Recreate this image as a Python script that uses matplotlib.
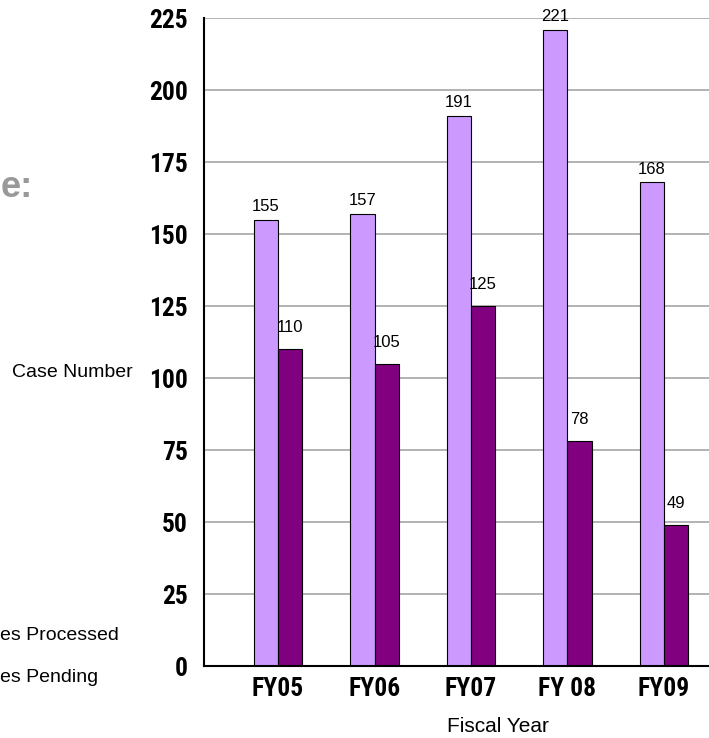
import matplotlib
matplotlib.use("Agg")
import matplotlib.pyplot as plt
from matplotlib import font_manager as fm
import numpy as np

# Annual case counts
years = ["FY05", "FY06", "FY07", "FY 08", "FY09"]
processed = [155, 157, 191, 221, 168]
pending = [110, 105, 125, 78, 49]
y_ticks = [0, 25, 50, 75, 100, 125, 150, 175, 200, 225]

LIGHT = "#CC99FF"
DARK = "#800080"
GRID = "#9E9E9E"

W, H = 709, 738
DPI = 100
fig = plt.figure(figsize=(W / DPI, H / DPI), dpi=DPI)

regular = ["Liberation Sans", "DejaVu Sans"]


def narrow_bold_font():
    """Pick a condensed bold face if one is installed."""
    prefs = ["Liberation Sans Narrow", "Arial Narrow", "Roboto Condensed",
             "Open Sans Condensed", "Noto Sans", "DejaVu Sans"]
    found = []
    for f in fm.fontManager.ttflist:
        condensed = ("Narrow" in f.name or "Condensed" in f.name
                     or "Cond" in f.fname or "Narrow" in f.fname
                     or f.stretch in ("condensed", "semi-condensed",
                                      "extra-condensed"))
        bold = (f.weight in ("bold", 700, 600, "semibold", "demibold")
                or "Bold" in f.fname)
        if condensed and bold and "Oblique" not in f.fname \
                and "Italic" not in f.fname:
            found.append(f)
    for p in prefs:
        for f in found:
            if f.name.startswith(p):
                return fm.FontProperties(fname=f.fname), True
    if found:
        return fm.FontProperties(fname=found[0].fname), True
    return fm.FontProperties(family="Liberation Sans", weight="bold"), False


tick_font, is_narrow = narrow_bold_font()
tick_font.set_size(18.4 if is_narrow else 16)

# Plot area: extends past the right edge of the canvas
ax_left, ax_right = 204, 738
ax_bottom, ax_top = 72, 720
ax = fig.add_axes([ax_left / W, ax_bottom / H,
                   (ax_right - ax_left) / W, (ax_top - ax_bottom) / H])

x = np.arange(len(years))
bw = 0.25
b1 = ax.bar(x - bw / 2, processed, bw, color=LIGHT, edgecolor="black",
            linewidth=0.8, zorder=2)
b2 = ax.bar(x + bw / 2, pending, bw, color=DARK, edgecolor="black",
            linewidth=0.8, zorder=2)

ax.set_xlim(-0.767, 4.767)
ax.set_ylim(0, 225)
ax.set_yticks(y_ticks)
ax.set_xticks(x)
ax.set_xticklabels(years)

ax.yaxis.grid(True, color=GRID, linewidth=1.1, zorder=0)
ax.set_axisbelow(True)

for side in ("top", "right"):
    ax.spines[side].set_visible(False)
for side in ("left", "bottom"):
    ax.spines[side].set_linewidth(1.5)
    ax.spines[side].set_color("black")

ax.tick_params(axis="y", length=0, pad=11.5)
ax.tick_params(axis="x", length=0, pad=8)
for lab in ax.get_yticklabels() + ax.get_xticklabels():
    lab.set_fontproperties(tick_font)

# Value labels above each bar
for rect, v in zip(b1, processed):
    ax.annotate(str(v), (rect.get_x() + rect.get_width() / 2, v),
                xytext=(0, 4), textcoords="offset points",
                ha="center", va="bottom", fontsize=12, family=regular)
for rect, v in zip(b2, pending):
    ax.annotate(str(v), (rect.get_x() + rect.get_width() / 2, v),
                xytext=(0, 10), textcoords="offset points",
                ha="center", va="bottom", fontsize=12, family=regular)

# Axis titles
fig.text(497.5 / W, 1 - 732 / H, "Fiscal Year", ha="center", va="baseline",
         fontsize=15, family=regular)
fig.text(72 / W, 1 - 377 / H, "Case Number", ha="center", va="baseline",
         fontsize=14, family=regular)

# Legend entry texts at the left edge
fig.text(0.5 / W, 1 - 640 / H, "es Processed", ha="left", va="baseline",
         fontsize=14, family=regular)
fig.text(0.5 / W, 1 - 682 / H, "es Pending", ha="left", va="baseline",
         fontsize=14, family=regular)

# Heading fragment
fig.text(0.5 / W, 1 - 197 / H, "e:", ha="left", va="baseline",
         fontsize=26, fontweight="bold", color="#999999", family=regular)

fig.savefig("out.png", dpi=DPI)
